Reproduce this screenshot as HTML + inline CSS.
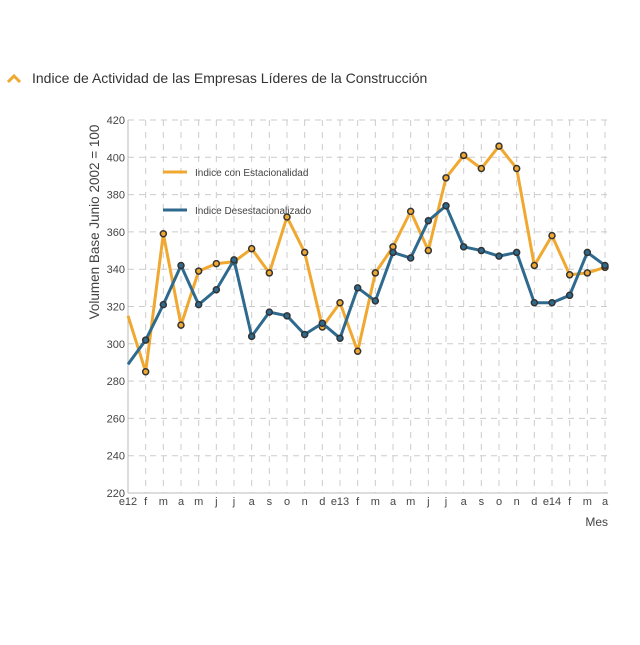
<!DOCTYPE html>
<html><head><meta charset="utf-8"><style>
body{margin:0;background:#fff;width:640px;height:640px;overflow:hidden;font-family:"Liberation Sans",sans-serif}
</style></head><body>
<svg width="640" height="640">
<path d="M8,82 L14,76 L20,82" stroke="#f0a830" stroke-width="3" fill="none"/>
<text x="32" y="83" font-size="14" fill="#333">Indice de Actividad de las Empresas Líderes de la Construcción</text>
<g id="grid"></g>
<g id="axes"></g>
<g id="series"></g>
<text transform="translate(99,222) rotate(-90)" text-anchor="middle" font-size="13.5" fill="#444">Volumen Base Junio 2002 = 100</text>
<text x="608" y="526" text-anchor="end" font-size="12" fill="#444">Mes</text>
<g>
<line x1="163" y1="172" x2="187" y2="172" stroke="#f0a830" stroke-width="3"/>
<text x="195" y="176" font-size="10" fill="#444">Indice con Estacionalidad</text>
<line x1="163" y1="210" x2="187" y2="210" stroke="#2e6a8e" stroke-width="3"/>
<text x="195" y="214" font-size="10" fill="#444">Indice Desestacionalizado</text>
</g>
</svg>
<script>
const categories=["e12","f","m","a","m","j","j","a","s","o","n","d","e13","f","m","a","m","j","j","a","s","o","n","d","e14","f","m","a"];
const seriesEst=[315,285,359,310,339,343,344,351,338,368,349,309,322,296,338,352,371,350,389,401,394,406,394,342,358,337,338,341];
const seriesDes=[289,302,321,342,321,329,345,304,317,315,305,311,303,330,323,349,346,366,374,352,350,347,349,322,322,326,349,342];
const yTicks=[220,240,260,280,300,320,340,360,380,400,420];
const NS="http://www.w3.org/2000/svg";
const X0=128,X1=605,Y0=493,Y1=120;
const xs=i=>X0+i*(X1-X0)/(categories.length-1);
const ys=v=>Y0-(v-220)*(Y0-Y1)/200;
function mk(t,a,p){const e=document.createElementNS(NS,t);for(const k in a)e.setAttribute(k,a[k]);p.appendChild(e);return e;}
const g=document.getElementById('grid'),ax=document.getElementById('axes'),sg=document.getElementById('series');
yTicks.forEach(v=>{
 const l=mk('line',{x1:X0,x2:X1+3,y1:ys(v),y2:ys(v),stroke:'#ccc','stroke-dasharray':'6,5'},g);
 
 
 const t=mk('text',{x:X0-3,y:ys(v)+4,'text-anchor':'end','font-size':11,fill:'#444'},ax);t.textContent=v;
 
 
});
categories.forEach((c,i)=>{
 const l=mk('line',{x1:xs(i),x2:xs(i),y1:Y1,y2:Y0,stroke:'#ccc','stroke-dasharray':'6,6'},g);
 
 
 const t=mk('text',{x:xs(i),y:Y0+12,'text-anchor':'middle','font-size':11,fill:'#444'},ax);t.textContent=c;
 
 
});
const a1=mk('line',{x1:X0,x2:X0,y1:Y1,y2:Y0,stroke:'#bbb'},ax);


const a2=mk('line',{x1:X0,x2:X1+3,y1:Y0,y2:Y0,stroke:'#bbb'},ax);


function draw(vals,col,name){
 const p=mk('polyline',{points:vals.map((v,i)=>xs(i)+','+ys(v)).join(' '),fill:'none',stroke:col,'stroke-width':3,'stroke-linejoin':'round'},sg);
 
 
 vals.forEach((v,i)=>{if(i===0)return;
  const c=mk('circle',{cx:xs(i),cy:ys(v),r:3,fill:col,stroke:'#333','stroke-width':1.5},sg);
  
  
 });
}
draw(seriesEst,'#f0a830','estacionalidad');
draw(seriesDes,'#2e6a8e','desestacionalizado');
</script>
</body></html>
